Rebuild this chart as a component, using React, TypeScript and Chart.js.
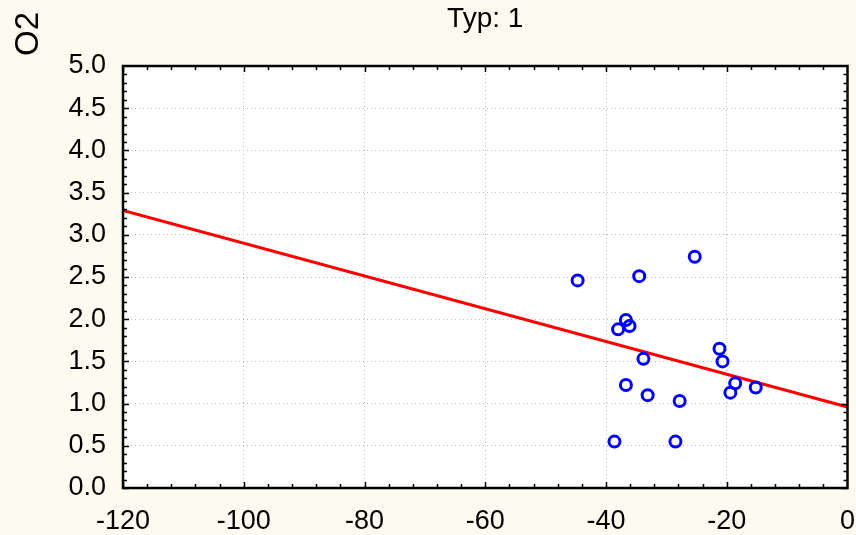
import React, { useEffect, useRef } from 'react';
import { Chart, registerables } from 'chart.js';

Chart.register(...registerables);

// Data
const pointX = [-44.7, -34.5, -25.3, -36.7, -36.1, -38.0, -33.8, -21.2, -20.7, -36.7, -33.1, -27.8, -18.6, -19.4, -15.2, -38.6, -28.5];
const pointY = [2.46, 2.51, 2.74, 1.99, 1.92, 1.88, 1.53, 1.65, 1.50, 1.22, 1.10, 1.03, 1.24, 1.13, 1.19, 0.55, 0.55];
const fitX = [-120, 0];
const fitY = [3.29, 0.96];
const xTickValues = [-120, -100, -80, -60, -40, -20, 0];
const yTickValues = [0, 0.5, 1, 1.5, 2, 2.5, 3, 3.5, 4, 4.5, 5];
const chartTitle = 'Typ: 1';
const yAxisTitle = 'O2';

const FONT = '"Liberation Sans", Arial, sans-serif';
const BG = '#FDFBEF';

const framePlugin = {
  id: 'frame',
  beforeDraw(chart: any) {
    const { ctx, chartArea: a } = chart;
    ctx.save();
    ctx.fillStyle = BG;
    ctx.fillRect(0, 0, chart.width, chart.height);
    ctx.fillStyle = '#FFFFFF';
    ctx.fillRect(a.left, a.top, a.right - a.left, a.bottom - a.top);
    ctx.restore();
  },
  afterDraw(chart: any) {
    const { ctx, chartArea: a, scales } = chart;
    const xs = scales.x;
    const ys = scales.y;
    ctx.save();
    ctx.strokeStyle = '#000000';
    ctx.lineWidth = 1.5;
    // inner ticks on x (top and bottom)
    for (let i = 0; i < xTickValues.length - 1; i++) {
      const v0 = xTickValues[i];
      const step = (xTickValues[i + 1] - v0) / 5;
      for (let k = 0; k < 5; k++) {
        const px = Math.round(xs.getPixelForValue(v0 + k * step)) + 0.5;
        const len = k === 0 ? 5 : 3;
        ctx.beginPath();
        ctx.moveTo(px, a.bottom);
        ctx.lineTo(px, a.bottom - len - 1);
        ctx.moveTo(px, a.top);
        ctx.lineTo(px, a.top + len + 1);
        ctx.stroke();
      }
    }
    for (let i = 0; i < yTickValues.length - 1; i++) {
      const v0 = yTickValues[i];
      const step = (yTickValues[i + 1] - v0) / 5;
      for (let k = 0; k < 5; k++) {
        const py = Math.round(ys.getPixelForValue(v0 + k * step)) + 0.5;
        const len = k === 0 ? 5 : 3;
        ctx.beginPath();
        ctx.moveTo(a.left, py);
        ctx.lineTo(a.left + len + 1, py);
        ctx.moveTo(a.right, py);
        ctx.lineTo(a.right - len - 1, py);
        ctx.stroke();
      }
    }
    // frame
    ctx.lineWidth = 2.5;
    ctx.strokeRect(a.left, a.top, a.right - a.left, a.bottom - a.top);
    // title centred over the plot area
    ctx.fillStyle = '#000000';
    ctx.font = `28px ${FONT}`;
    ctx.textAlign = 'center';
    ctx.textBaseline = 'alphabetic';
    ctx.fillText(chartTitle, (a.left + a.right) / 2, 27);
    // rotated y-axis title at the top-left
    ctx.font = `33px ${FONT}`;
    ctx.textBaseline = 'middle';
    ctx.translate(29, 34);
    ctx.rotate(-Math.PI / 2);
    ctx.fillText(yAxisTitle, 0, 0);
    ctx.restore();
  },
};

export default function App() {
  const ref = useRef<HTMLCanvasElement | null>(null);
  useEffect(() => {
    const canvas = ref.current;
    if (!canvas) return;
    const chart = new Chart(canvas, {
      type: 'scatter',
      data: {
        datasets: [
          {
            type: 'scatter',
            label: 'points',
            data: pointX.map((x, i) => ({ x, y: pointY[i] })),
            pointRadius: 5.5,
            pointHoverRadius: 5.5,
            borderWidth: 3,
            pointBorderWidth: 3,
            borderColor: '#0000FF',
            pointBorderColor: '#0000FF',
            backgroundColor: 'rgba(0,0,0,0)',
            pointBackgroundColor: 'rgba(0,0,0,0)',
            order: 1,
          },
          {
            type: 'line',
            label: 'fit',
            data: fitX.map((x, i) => ({ x, y: fitY[i] })),
            borderColor: '#FF0000',
            borderWidth: 3,
            pointRadius: 0,
            fill: false,
            tension: 0,
            order: 2,
          } as any,
        ],
      },
      options: {
        animation: false,
        responsive: false,
        maintainAspectRatio: false,
        devicePixelRatio: 1,
        layout: { padding: { left: 0, right: 7, top: 66, bottom: 0 } },
        plugins: {
          legend: { display: false },
          tooltip: { enabled: false },
          title: { display: false },
        },
        scales: {
          x: {
            type: 'linear',
            min: -120,
            max: 0,
            afterBuildTicks: (s: any) => {
              s.ticks = xTickValues.map((v) => ({ value: v }));
            },
            afterFit: (s: any) => {
              s.height = 47;
              s.paddingLeft = 0;
              s.paddingRight = 0;
            },
            ticks: {
              color: '#000000',
              font: { family: FONT, size: 27 },
              padding: 17,
              maxRotation: 0,
              autoSkip: false,
              callback: (v: any) => String(v),
            },
            grid: {
              color: '#BDBDBD',
              lineWidth: 1,
              drawTicks: false,
            },
            border: { display: false, dash: [1, 3] },
          },
          y: {
            type: 'linear',
            min: 0,
            max: 5,
            afterBuildTicks: (s: any) => {
              s.ticks = yTickValues.map((v) => ({ value: v }));
            },
            afterFit: (s: any) => {
              s.width = 123;
              s.paddingTop = 0;
              s.paddingBottom = 0;
            },
            ticks: {
              color: '#000000',
              font: { family: FONT, size: 27 },
              padding: 17,
              autoSkip: false,
              callback: (v: any) => Number(v).toFixed(1),
            },
            grid: {
              color: '#BDBDBD',
              lineWidth: 1,
              drawTicks: false,
            },
            border: { display: false, dash: [1, 3] },
          },
        },
      } as any,
      plugins: [framePlugin],
    });
    return () => chart.destroy();
  }, []);
  return (
    <div style={{ position: 'fixed', left: 0, top: 0, width: 856, height: 535, background: BG }}>
      <canvas ref={ref} width={856} height={535} style={{ display: 'block', width: 856, height: 535 }} />
    </div>
  );
}
